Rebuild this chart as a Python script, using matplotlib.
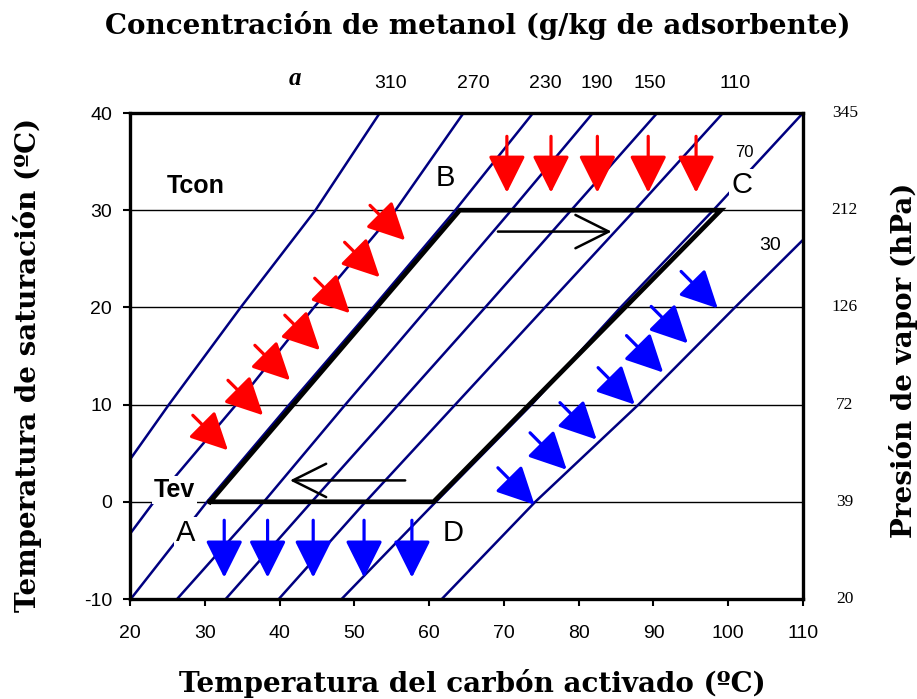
import matplotlib.pyplot as plt

plt.rcParams["axes.unicode_minus"] = False

# saturation temperature levels (degC) where each isostere was read
t_sat = [-10, 0, 10, 20, 30, 40]

# activated carbon temperature (degC) of each methanol isostere (g/kg)
iso_310 = [7.0, 16.0, 25.2, 34.8, 44.8, 53.4]
iso_270 = [13.5, 23.2, 34.2, 44.6, 55.5, 64.6]
iso_230 = [20.1, 30.3, 41.3, 52.5, 63.5, 73.9]
iso_190 = [26.3, 37.9, 48.8, 59.9, 71.0, 81.9]
iso_150 = [32.8, 44.3, 55.9, 67.5, 79.0, 90.5]
iso_110 = [39.9, 51.5, 63.5, 75.5, 87.5, 99.3]
iso_70 = [48.3, 60.9, 73.7, 85.6, 98.0, 110.0]
iso_30 = [61.7, 74.2, 88.0, 100.9, 114.0, 126.0]
isosteres = [iso_310, iso_270, iso_230, iso_190, iso_150, iso_110, iso_70, iso_30]

# top labels of the isosteres
conc_labels = ["310", "270", "230", "190", "150", "110"]
conc_label_x = [54.8, 65.9, 75.6, 82.4, 89.5, 100.9]

# vapour pressure (hPa) matching the saturation temperatures
p_vap = ["20", "39", "72", "126", "212", "345"]

# cycle A-B-C-D
cycle_x = [30.7, 64.1, 99.0, 60.6, 30.7]
cycle_y = [0, 30, 30, 0, 0]

# heat arrows (tip positions)
red_down_x = [70.4, 76.3, 82.5, 89.3, 95.7]
red_down_y = [37.6, 31.8]
blue_down_x = [32.6, 38.4, 44.5, 51.3, 57.7]
blue_down_y = [-1.9, -7.8]
red_diag_x = [33.1, 37.8, 41.4, 45.4, 49.4, 53.4, 56.8]
red_diag_y = [5.3, 8.9, 12.5, 15.6, 19.4, 23.1, 26.9]
blue_diag_x = [74.1, 78.4, 82.4, 87.5, 91.3, 94.6, 98.6]
blue_diag_y = [-0.3, 3.3, 6.4, 10.0, 13.3, 16.3, 19.9]

navy = "#000080"
sans = "Liberation Sans"
serif = "DejaVu Serif"

fig = plt.figure(figsize=(9.17, 6.99), dpi=100)
ax = fig.add_axes([130 / 917, 1 - 599 / 699, 673 / 917, 486 / 699])

ax.set_xlim(20, 110)
ax.set_ylim(-10, 40)
ax.set_xticks(range(20, 111, 10))
ax.set_yticks(range(-10, 41, 10))
ax.tick_params(direction="out", length=5, width=1.5, labelsize=14, pad=8)
ax.tick_params(axis="x", pad=14)
for lab in ax.get_xticklabels() + ax.get_yticklabels():
    lab.set_fontfamily(sans)
for sp in ax.spines.values():
    sp.set_linewidth(2.4)

ax.set_axisbelow(True)
ax.yaxis.grid(True, color="black", lw=1.0)

# isosteres
for xs in isosteres:
    ax.plot(xs, t_sat, color=navy, lw=1.8, zorder=2)

# cycle
ax.plot(cycle_x, cycle_y, color="black", lw=3.4, zorder=3, solid_joinstyle="miter")

# filled heat arrows
def heat_arrow(x0, y0, x1, y1, color):
    ax.annotate("", xy=(x1, y1), xytext=(x0, y0), zorder=4,
                arrowprops=dict(arrowstyle="-|>,head_length=1.0,head_width=0.5",
                                mutation_scale=23, lw=2.3, color=color,
                                shrinkA=0, shrinkB=0))

for x in red_down_x:
    heat_arrow(x, red_down_y[0], x, red_down_y[1], "red")
for x in blue_down_x:
    heat_arrow(x, blue_down_y[0], x, blue_down_y[1], "blue")
for x, y in zip(red_diag_x, red_diag_y):
    heat_arrow(x - 4.7, y + 3.6, x, y, "red")
for x, y in zip(blue_diag_x, blue_diag_y):
    heat_arrow(x - 4.9, y + 3.8, x, y, "blue")

# open process arrows
open_style = dict(arrowstyle="->,head_length=1.2,head_width=0.6",
                  mutation_scale=20, lw=1.8, color="black", shrinkA=0, shrinkB=0)
ax.annotate("", xy=(84.4, 27.8), xytext=(69.2, 27.8), arrowprops=open_style, zorder=4)
ax.annotate("", xy=(41.4, 2.2), xytext=(56.8, 2.2), arrowprops=open_style, zorder=4)

# labels inside the plot
white = dict(facecolor="white", edgecolor="none", pad=1.5)
ax.text(28.8, 32.5, "Tcon", fontsize=18, family=sans, weight="bold",
        ha="center", va="center", zorder=5)
ax.text(26.0, 1.2, "Tev", fontsize=18, family=sans, weight="bold",
        ha="center", va="center", zorder=5, bbox=white)
for s, x, y in [("A", 27.4, -3.2), ("B", 62.1, 33.3), ("C", 101.8, 32.6), ("D", 63.2, -3.2)]:
    ax.text(x, y, s, fontsize=21, family=sans, ha="center", va="center",
            zorder=5, bbox=white)
ax.text(102.2, 35.9, "70", fontsize=12, family=sans, ha="center", va="center",
        zorder=5, bbox=white)
ax.text(105.6, 26.4, "30", fontsize=14, family=sans, ha="center", va="center", zorder=5)

# concentration labels above the plot
ax.text(42.1, 43.6, "a", fontsize=18, family="Liberation Serif", weight="bold",
        style="italic", ha="center", va="center", clip_on=False)
for s, x in zip(conc_labels, conc_label_x):
    ax.text(x, 43.0, s, fontsize=14, family=sans, ha="center", va="center",
            clip_on=False)

# vapour pressure labels on the right
for s, y in zip(p_vap, t_sat):
    ax.text(1.062, y, s, fontsize=12.5, family="Liberation Serif", ha="center",
            va="center", transform=ax.get_yaxis_transform(), clip_on=False)

label_font = dict(family=serif, weight="bold", fontsize=20)
fig.text(472 / 917, 1 - 683 / 699, "Temperatura del carbón activado (ºC)",
         ha="center", va="center", **label_font)
fig.text(28 / 917, 1 - 365 / 699, "Temperatura de saturación (ºC)", rotation=90,
         ha="center", va="center", **label_font)
fig.text(903 / 917, 1 - 360 / 699, "Presión de vapor (hPa)", rotation=90,
         ha="center", va="center", **label_font)
fig.text(478 / 917, 1 - 26 / 699, "Concentración de metanol (g/kg de adsorbente)",
         ha="center", va="center", **label_font)

fig.savefig("out.png", dpi=100)
